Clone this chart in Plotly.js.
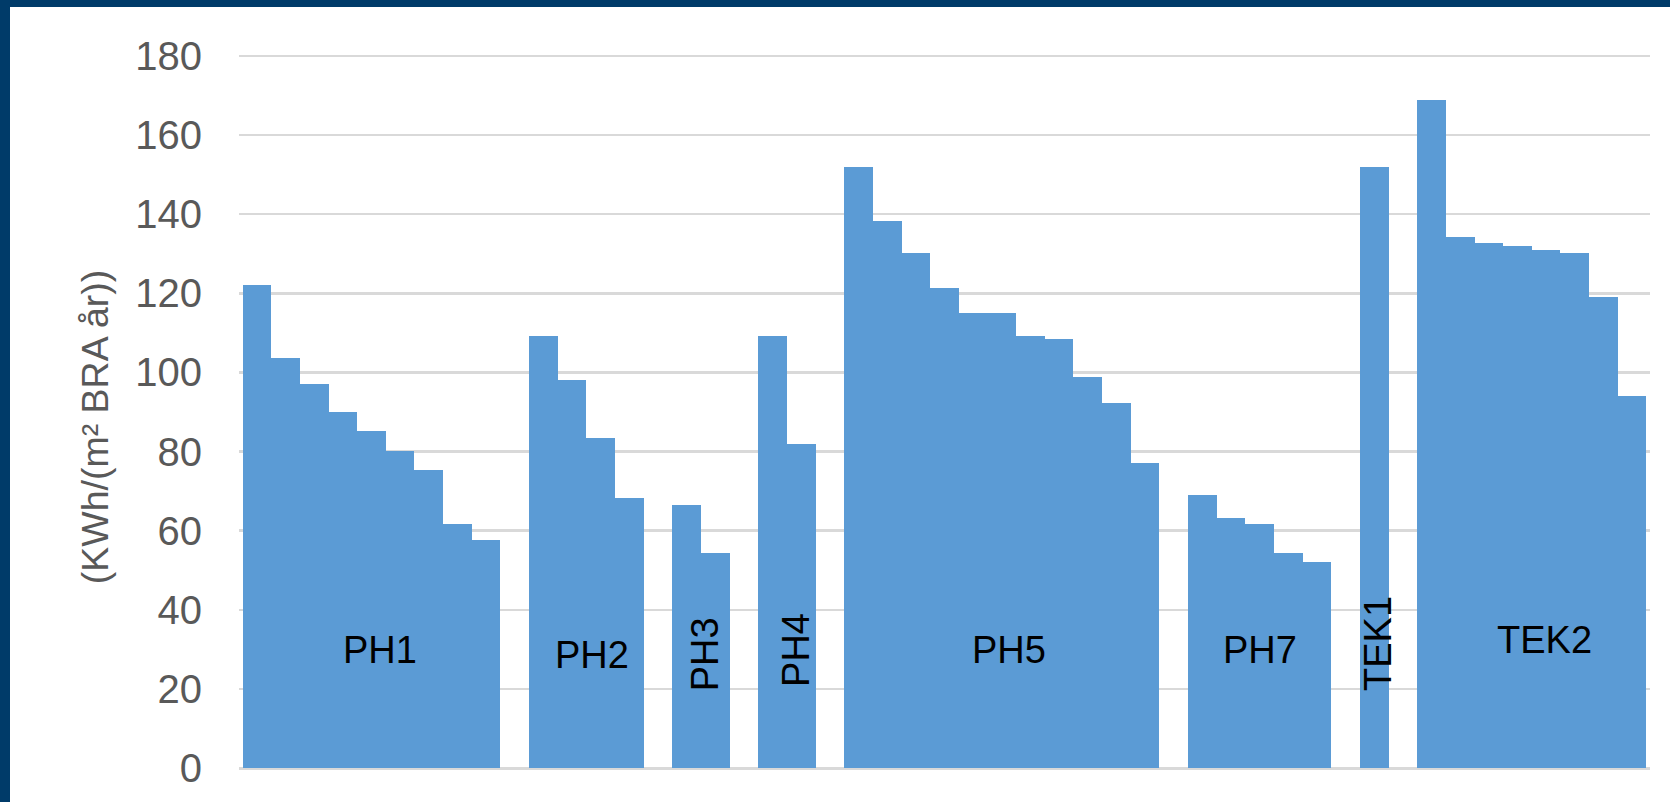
<!DOCTYPE html>
<html>
<head>
<meta charset="utf-8">
<script src="https://cdn.plot.ly/plotly-3.0.1.min.js"></script>
<style>
  html, body { margin: 0; padding: 0; background: #ffffff; overflow: hidden; }
  #wrap { position: relative; width: 1670px; height: 802px; }
  #chart { position: absolute; left: 0; top: 0; width: 1670px; height: 802px; }
  .frame-top { position: absolute; left: 0; top: 0; width: 1670px; height: 7px; background: #003b69; }
  .frame-left { position: absolute; left: 0; top: 0; width: 10px; height: 802px; background: #003b69; }
</style>
</head>
<body>
<div id="wrap">
  <div id="chart"></div>
  <div class="frame-top"></div>
  <div class="frame-left"></div>
</div>
<script>
// Specific energy use per building, kWh/(m² BRA år), sorted high to low within each group
const groupNames = ["PH1", "PH2", "PH3", "PH4", "PH5", "PH7", "TEK1", "TEK2"];
const PH1 = [122, 103.6, 97, 90, 85.1, 80.1, 75.3, 61.7, 57.6];
const PH2 = [109.2, 98.1, 83.4, 68.3];
const PH3 = [66.5, 54.3];
const PH4 = [109.2, 81.9];
const PH5 = [151.9, 138.3, 130.2, 121.3, 115, 115, 109.2, 108.4, 98.8, 92.3, 77.1];
const PH7 = [69, 63.2, 61.7, 54.3, 52.1];
const TEK1 = [151.9];
const TEK2 = [168.9, 134.2, 132.7, 132, 130.9, 130.2, 119.1, 94];
const groups = [PH1, PH2, PH3, PH4, PH5, PH7, TEK1, TEK2];
const yTitle = "(KWh/(m² BRA år))";

// Group label placement (category index, value) and orientation
const labelX = [4.30, 11.69, 15.67, 18.81, 26.25, 35.01, 39.13, 44.95];
const labelY = [29.8, 28.6, 28.7, 29.8, 29.8, 29.8, 31.6, 32.3];
const labelAngle = [0, 0, -90, -90, 0, 0, -90, 0];

// Lay the groups out side by side with one empty slot between them
const xs = [], ys = [], names = [];
let pos = 0;
groups.forEach((vals, g) => {
  vals.forEach(v => { xs.push(pos); ys.push(v); names.push(groupNames[g]); pos += 1; });
  pos += 1;
});
const slotCount = pos - 1;

const trace = {
  type: "bar",
  x: xs,
  y: ys,
  customdata: names,
  marker: { color: "#5b9bd5", line: { width: 0 } },
  hovertemplate: "%{customdata}: %{y}<extra></extra>"
};

const fontFamily = "Liberation Sans, Arial, sans-serif";

const annotations = groupNames.map((name, i) => ({
  x: labelX[i], y: labelY[i], xref: "x", yref: "y",
  text: name, showarrow: false, textangle: labelAngle[i],
  xanchor: "center", yanchor: "middle",
  font: { family: fontFamily, size: 38, color: "#000000" }
}));

// Vertical axis title, rotated, left of the tick labels
annotations.push({
  x: -0.102, y: 0.476, xref: "paper", yref: "paper",
  text: yTitle, showarrow: false, textangle: -90,
  xanchor: "center", yanchor: "middle",
  font: { family: fontFamily, size: 37.5, color: "#595959" }
});

const layout = {
  width: 1670,
  height: 802,
  margin: { l: 239, r: 20, t: 52, b: 34 },
  paper_bgcolor: "#ffffff",
  plot_bgcolor: "#ffffff",
  bargap: 0,
  showlegend: false,
  font: { family: fontFamily, color: "#595959" },
  xaxis: {
    range: [-0.625, slotCount - 0.375],
    showgrid: false, zeroline: false, showline: false,
    showticklabels: false, ticks: "", fixedrange: true
  },
  yaxis: {
    range: [0, 181],
    dtick: 20, tick0: 0,
    showgrid: true, gridcolor: "#d9d9d9", gridwidth: 2.5,
    zeroline: true, zerolinecolor: "#d9d9d9", zerolinewidth: 3,
    showline: false, ticks: "",
    ticklabelstandoff: 36,
    tickfont: { family: fontFamily, size: 40, color: "#595959" },
    automargin: false
  },
  annotations: annotations
};

Plotly.newPlot("chart", [trace], layout, { staticPlot: true, displayModeBar: false });
</script>
</body>
</html>
